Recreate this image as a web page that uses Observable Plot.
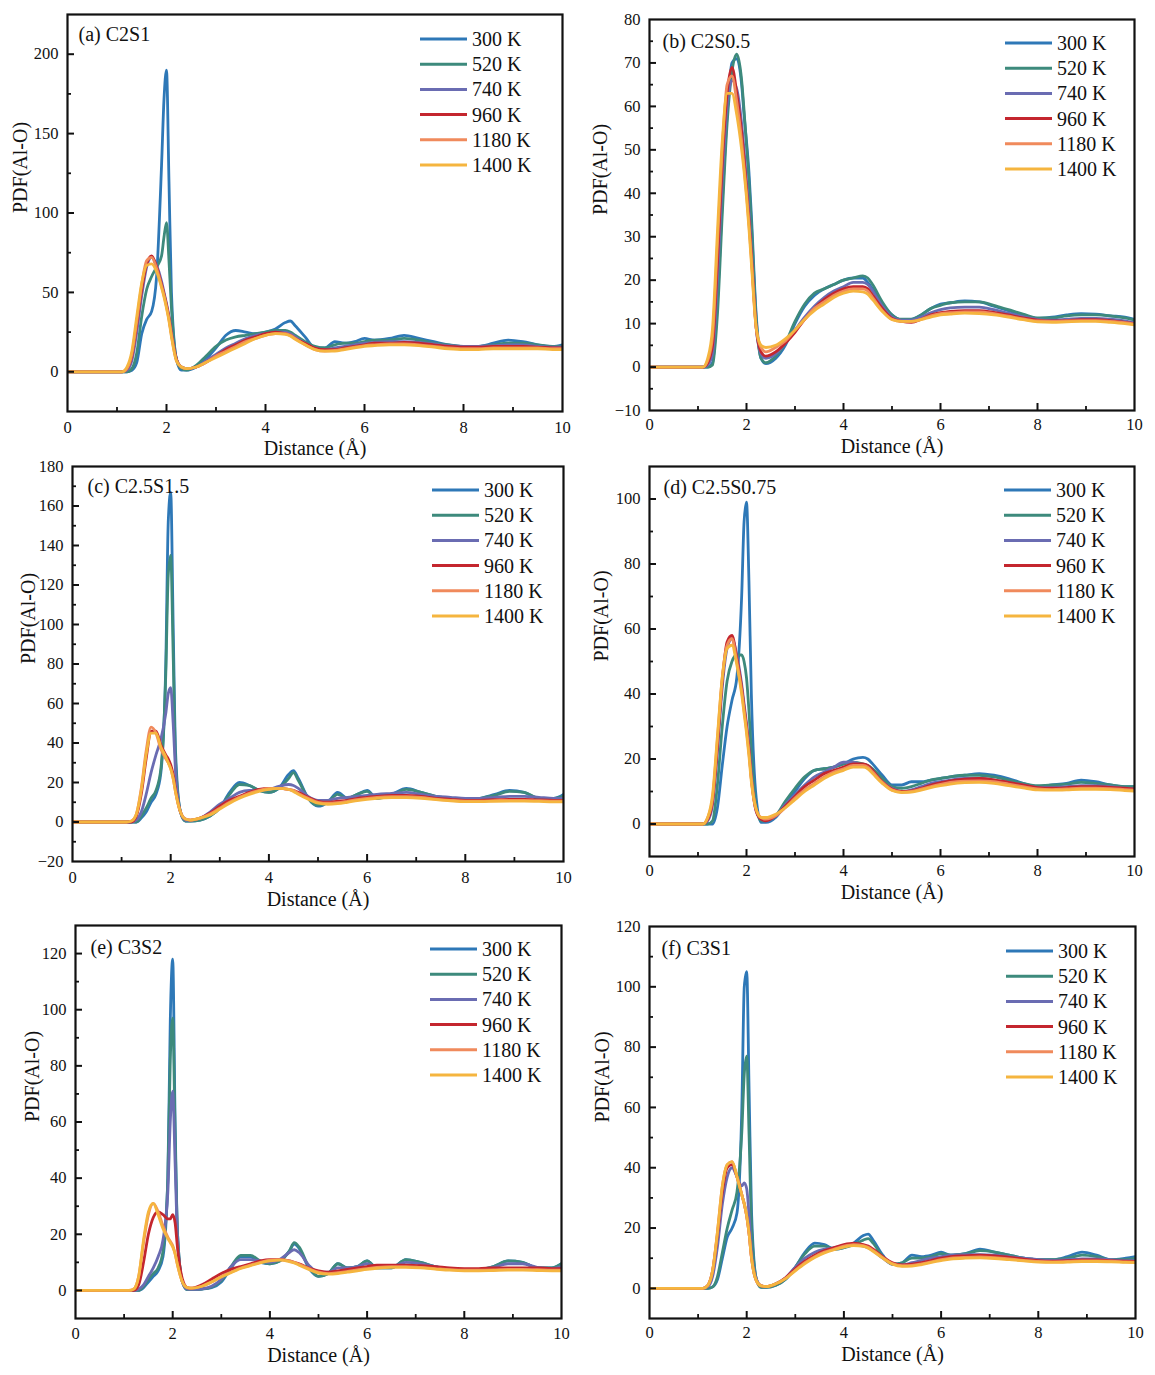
<!DOCTYPE html>
<html><head><meta charset="utf-8">
<script src="https://cdn.jsdelivr.net/npm/d3@7"></script>
<script src="https://cdn.jsdelivr.net/npm/@observablehq/plot@0.6"></script>
<style>
body{margin:0;background:#fff;}
#root{position:relative;width:1155px;height:1375px;overflow:hidden;background:#fff;}
.panel{position:absolute;}
</style></head><body><div id="root"></div>
<script>
// ---------- data ----------
const distance = [0,1.1,1.2,1.3,1.4,1.5,1.6,1.7,1.8,1.9,1.95,2.0,2.05,2.1,2.2,2.3,2.4,2.6,2.8,3.0,3.2,3.4,3.6,3.8,4.0,4.2,4.4,4.5,4.6,4.8,5.0,5.2,5.4,5.6,5.8,6.0,6.2,6.5,6.8,7.1,7.4,7.7,8.0,8.3,8.6,8.9,9.2,9.5,9.8,10];
const temperatures = ["300 K","520 K","740 K","960 K","1180 K","1400 K"];
const xTickLabels = [0,2,4,6,8,10];
const xMinorTicks = [1,3,5,7,9];
const xTitle = "Distance (Å)";
const yTitle = "PDF(Al-O)";

// (a) C2S1
const a300 = [0,0,0,1,6,24,33,38,60,130,172,190,120,50,8,1,1,3,8,15,23,26,25,24,25,27,31,32,29,22,15,15,19,18,19,21,20,21,23,21,19,17,16,16,18,20,19,17,16,17];
const a520 = [0,0,0,2,12,35,52,60,66,73,85,94,70,40,8,2,1,4,10,16,20,22,23,24,25,26,26,25,23,19,16,15,17,18,18,19,20,20,21,20,18,17,16,16,17,18,18,17,16,16];
const a740 = [0,0,1,7,25,48,66,72,67,57,50,43,35,25,8,3,2,3,7,11,15,18,21,23,24,25,25,24,22,18,15,14,15,16,17,18,18.5,19,19,18.5,17.5,16.5,16,16,16.5,17,17,16,15.5,15.5];
const a960 = [0,0,2,10,30,52,68,73,66,55,49,42,34,24,8,3,2,3,6,10,14,17,20,22,24,25,24,23,21,18,15,14,14,15,16,17,18,18,18.5,18,17,16,15.5,15.5,16,16,16,15.5,15,15];
const a1180 = [0,0,2,11,32,55,70,72,65,54,48,41,33,23,7,3,2,3,6,10,13,16,19,21,23,24,24,23,21,17,14,13,13.5,14.5,15.5,16.5,17,17.5,17.5,17,16,15,14.5,14.5,15,15,15,15,14.5,14.5];
const a1400 = [0,0,3,13,35,56,67,68,63,53,47,40,32,22,7,3,2,3,6,9,12,15,18,21,23,24,23.5,22.5,20.5,17,14,13,13,14,15,16,16.5,17,17,16.5,15.5,14.5,14,14,14.5,14.5,14.5,14.5,14,14];

// (b) C2S0.5
const b300 = [0,0,0,1,15,38,58,70,71,65,58,52,45,35,12,2,0.8,2,5,10,14,16.5,18,19,20,20.5,20.5,19.5,18,14.5,12,10.8,11,12,13.5,14.5,14.8,15.2,15,14,13,12,11.2,11.5,12,12.3,12.2,11.8,11.5,11];
const b520 = [0,0,0,0.5,12,35,56,68,72,66,59,51,43,33,11,2,1,2.5,5.5,10.5,14.5,17,18,19,20,20.5,21,20.5,19,15,12,11,11,12,13.5,14.2,14.8,15,15,14.2,13.2,12.2,11.3,11.3,11.8,12,12,11.8,11.3,10.8];
const b740 = [0,0,0.5,3,20,43,60,66,64,56,50,43,36,27,9,3,2,3,5.5,8.5,11.5,14,16,17.5,18.5,19.5,19.5,19,17.5,14,11.5,10.8,10.8,11.5,12.5,13.2,13.6,13.8,13.8,13.2,12.4,11.6,11,10.8,11,11.2,11.2,11,10.6,10.2];
const b960 = [0,0,1,5,24,47,63,69,63,54,48,41,34,26,9,3.5,2.5,3.5,5.5,8,11,13.5,15.5,17,18,18.5,18.5,18,16.5,13.5,11.2,10.5,10.3,11,12,12.5,12.8,13,13,12.6,12,11.3,10.8,10.6,10.7,10.9,10.9,10.7,10.3,10];
const b1180 = [0,0,1.5,7,28,50,65,67,61,52,46,40,33,25,9,4.5,3.5,4.5,6,8.5,11,13.5,15,16.5,17.5,18,18,17.5,16,13,11,10.5,10.5,11,11.8,12.3,12.5,12.7,12.7,12.3,11.7,11.1,10.6,10.5,10.6,10.7,10.7,10.5,10.2,9.9];
const b1400 = [0,0,2,9,31,52,63,63,58,50,45,39,32,24,9,5,4.5,5,6.5,8.5,11,13,14.5,16,17,17.5,17.3,16.8,15.5,12.8,10.9,10.5,10.5,10.9,11.5,12,12.2,12.4,12.3,12,11.5,10.9,10.4,10.3,10.4,10.5,10.5,10.3,10,9.7];

// (c) C2.5S1.5
const c300 = [0,0,0,0,2,5,10,14,25,80,152,167,100,35,5,0.5,0.5,1,3,7,15,20,18.5,16,15,17,24,26,22,12,8,10,15,12,14,16,12,14,17,15,13,12,11,12,14,16,15,12,12,14];
const c520 = [0,0,0,0,3,7,12,16,27,75,125,135,85,30,5,0.5,0.5,1,3,7,14,19,18.5,16,15,17,22,25,21,12,8.5,10,14,12,14,15.5,12,13.5,16.5,15,13,12,11,12,13.5,15.5,15,12,12,13];
const c740 = [0,0,0,1,5,14,25,34,42,55,65,68,50,25,5,1,0.8,2,5,9,12,15,16,16,16.5,18,19,18.5,17,13,11,11,12,12.5,13,13.5,14,14.5,15,14,13,12.5,12,12,12.5,13,13,12.5,12,12];
const c960 = [0,0,0,3,14,32,46,46,39,34,32,29,24,16,5,1.5,1,2,4.5,8,11,13,15,16.5,17,17,16.5,16,15,12.5,10.5,10,10.5,11,12,12.5,13,13.5,13.5,13,12,11.5,11,11,11.3,11.5,11.5,11.2,11,11];
const c1180 = [0,0,0.5,4,17,36,48,45,37,32,30,27,22,15,5,1.5,1,2,4,7,10,12.5,14.5,16,17,17,16.5,16,14.5,12,10,9.5,9.8,10.5,11.3,12,12.5,12.8,12.8,12.4,11.6,11,10.6,10.6,10.8,11,11,10.8,10.5,10.5];
const c1400 = [0,0,0.5,4,16,34,45,45,38,33,30,27,22,15,5,1.5,1,2,3.5,6.5,9.5,12,14,15.5,16.5,17,16.5,15.5,14,11.5,9.5,9,9.3,10,10.8,11.5,12,12.3,12.3,12,11.3,10.7,10.3,10.3,10.5,10.6,10.6,10.4,10.2,10.2];

// (d) C2.5S0.75
const d300 = [0,0,0,0,5,18,30,38,45,70,93,99,75,40,8,0.5,0.5,2,6,10,14,16.5,17,17.5,18.5,20,20.5,20,18.5,15,12,12,13,13,13.5,14,14.5,15,15.5,15,14,12.5,11.5,12,12.5,13.5,13,12,11.5,11.5];
const d520 = [0,0,0,1,12,30,44,50,52,52,50,45,35,22,5,1,1,2.5,7,11,14.5,16.5,17,17.5,18.5,19,18.5,18,17,14,11.5,11,11.5,12.5,13.5,14,14.5,15,15,14.5,13.5,12.5,11.8,12,12.3,12.8,12.5,12,11.5,11.5];
const d740 = [0,0,1,6,22,42,54,57,52,43,37,31,24,15,4,1.5,1,2.5,6,9,12,14.5,16,17.5,19,19,18,17.5,16,13,11,10,10.5,11.5,12.5,13,13.5,14,14,13.5,12.8,12,11.3,11.3,11.5,11.8,11.8,11.5,11,10.8];
const d960 = [0,0,1.5,7,24,44,56,58,51,42,36,30,23,14,4,1.5,1,2.5,5.5,8.5,11.5,13.5,15.5,16.5,17.5,18.5,18.5,18,16.5,13,10.8,10,10.2,11,12,12.7,13.3,13.8,14,13.6,12.8,12,11.2,11,11.2,11.5,11.5,11.3,11,10.8];
const d1180 = [0,0,2,8,26,45,55,57,50,41,35,29,22,14,4.5,2,1.5,2.5,5,8,10.5,12.5,14.5,16,17,18,18,17.5,16,12.8,10.5,9.8,10,10.7,11.5,12.2,12.8,13.2,13.3,13,12.3,11.5,10.8,10.6,10.8,11,11,10.9,10.6,10.4];
const d1400 = [0,0,2,9,27,45,54,55,49,40,34,28,21,13,4.5,2,2,3,5,7.5,10,12,14,15.5,16.5,17.5,17.5,17,15.5,12.5,10.3,9.7,9.8,10.4,11.2,11.8,12.3,12.7,12.8,12.5,11.8,11.1,10.5,10.4,10.5,10.7,10.7,10.6,10.3,10.1];

// (e) C3S2
const e300 = [0,0,0,0,1,3,5,7,12,40,96,118,60,20,3,0.3,0.3,0.5,1,3,8,12,12,10,9.5,10.5,14,16.5,15,8,5,6,9.5,8,8.5,10.5,8,8,11,10,8.5,7.5,7.5,7.5,8.5,10.5,10,8,8,9.5];
const e520 = [0,0,0,0,1.5,4,6,8,14,40,82,97,55,20,3,0.3,0.3,0.5,1.2,3.5,8.5,12.5,12.5,10.5,9.5,10.5,14,17,15.5,8.5,5,6,9.5,8,8.5,10.5,8,8,11,10,8.5,7.5,7.5,7.5,8.5,10.5,10,8,8,9.5];
const e740 = [0,0,0,0.5,2,5,8,12,18,35,60,71,45,18,3,0.5,0.4,0.6,1.5,4,8.5,11,11,10.5,10,11,13.5,14.5,13.5,9,6.5,6.5,8,8,8.5,9.5,8.5,8.5,10,9.5,8.5,7.8,7.5,7.5,8.2,9.5,9.5,8.2,7.8,8.5];
const e960 = [0,0,0,2,10,20,26,28,27,25.5,25.5,27,24,15,4,1,0.8,2,4,6,7.5,8.5,9.5,10.5,11,11,10.5,10,9.5,8,7,6.5,7,7.5,8,8.5,9,9,9,8.8,8.5,8,7.8,7.8,8,8,8,8,7.8,7.8];
const e1180 = [0,0,0.5,5,17,27,31,28,23,19,17.5,16,13,9,3,1,0.8,1.5,3,5,6.5,8,9,10,10.8,11,10.5,10,9.3,7.8,6.5,6,6.3,6.8,7.3,7.8,8.2,8.5,8.5,8.2,7.8,7.4,7.2,7.2,7.3,7.5,7.5,7.4,7.2,7.2];
const e1400 = [0,0,0.5,5,18,28,31,27,22,18.5,17,15.5,13,9,3,1,0.8,1.5,3,4.8,6.3,7.8,8.8,9.8,10.5,10.8,10.3,9.8,9,7.5,6.2,5.8,6,6.5,7,7.5,7.9,8.2,8.2,8,7.6,7.2,7,7,7.1,7.2,7.2,7.1,7,7];

// (f) C3S1
const f300 = [0,0,0,0.5,3,10,17,20,25,60,100,105,65,25,3,0.3,0.3,1,3,7,12,15,14.5,13,13.5,15,17.5,18,16,11,8,8.5,11,10.5,11,12,11,11.5,13,12,11,10,9.5,9.5,10.5,12,11,9.5,10,10.5];
const f520 = [0,0,0,0.5,4,12,20,26,32,52,71,77,50,20,3,0.3,0.3,1,3,7,11.5,14,14,13,13.5,14.5,16,16.5,15,10.5,8,8.5,10,10,10.5,11.5,11,11.5,12.5,12,11,10,9.5,9.5,10,11,10.5,9.5,9.5,10];
const f740 = [0,0,0.5,4,14,28,37,40,37,34,35,33,24,12,3,0.8,0.5,1.5,3.5,7,10,12,13,13.5,14,14.5,14,13.5,12.5,10,8,7.8,8.5,9.3,10,10.5,11,11.2,11.2,11,10.5,10,9.5,9.3,9.5,9.8,9.8,9.5,9.2,9.2];
const f960 = [0,0,1,6,18,32,40,41,37,31,28,24,18,10,2.5,0.8,0.6,1.5,3.5,6.5,9,11,12.5,13.5,14.5,15,14.5,14,13,10.5,8.5,7.8,8,8.5,9.3,10,10.5,10.8,11,10.8,10.3,9.7,9.2,9,9.2,9.4,9.4,9.2,9,8.9];
const f1180 = [0,0,1,6,19,34,41,42,37,31,28,24,18,10,2.5,0.8,0.6,1.5,3.3,6,8.5,10.5,12,13,14,14.5,14.2,13.6,12.6,10.2,8.2,7.5,7.6,8.1,8.8,9.5,10,10.3,10.4,10.2,9.8,9.3,8.9,8.8,8.9,9.1,9.1,9,8.8,8.7];
const f1400 = [0,0,1,6,19,34,41,42,37,31,28,24,18,10,2.5,0.8,0.6,1.5,3.2,5.8,8.2,10.2,11.7,12.8,13.7,14.2,13.9,13.3,12.3,10,8,7.3,7.4,7.9,8.6,9.2,9.7,10,10.1,9.9,9.5,9.1,8.7,8.6,8.7,8.9,8.9,8.8,8.6,8.5];

const panelLabels = ["(a) C2S1","(b) C2S0.5","(c) C2.5S1.5","(d) C2.5S0.75","(e) C3S2","(f) C3S1"];
const panelSeries = [
  [a300,a520,a740,a960,a1180,a1400],
  [b300,b520,b740,b960,b1180,b1400],
  [c300,c520,c740,c960,c1180,c1400],
  [d300,d520,d740,d960,d1180,d1400],
  [e300,e520,e740,e960,e1180,e1400],
  [f300,f520,f740,f960,f1180,f1400]
];
const yDomains = [[-25,225],[-10,80],[-20,180],[-10,110],[-10,130],[-10,120]];
const yTickLabels = [
  [0,50,100,150,200],
  [-10,0,10,20,30,40,50,60,70,80],
  [-20,0,20,40,60,80,100,120,140,160,180],
  [0,20,40,60,80,100],
  [0,20,40,60,80,100,120],
  [0,20,40,60,80,100,120]
];
const yMinorTicks = [
  [25,75,125,175],
  [-5,5,15,25,35,45,55,65,75],
  [-10,10,30,50,70,90,110,130,150,170],
  [10,30,50,70,90],
  [10,30,50,70,90,110],
  [10,30,50,70,90,110]
];

// ---------- styles / layout ----------
const colors = ["#2e78b7","#3d8a7c","#6a6cb2","#c4262e","#f08a5c","#f5b53f"];
const frames = [
  {l:67, r:562, t:14, b:411, xLab:37, tickPad:10, yLab:47, tagDx:11, tagDy:20, legX:420, legY:39},
  {l:649,r:1134,t:19, b:410, xLab:36, tickPad:8,  yLab:49, tagDx:13, tagDy:22, legX:1005,legY:43},
  {l:72, r:563, t:466,b:861, xLab:38, tickPad:10, yLab:44, tagDx:15, tagDy:20, legX:432, legY:490},
  {l:649,r:1134,t:466,b:856, xLab:36, tickPad:8,  yLab:48, tagDx:14, tagDy:21, legX:1004,legY:490},
  {l:75, r:561, t:925,b:1318,xLab:37, tickPad:9,  yLab:43, tagDx:15, tagDy:22, legX:430, legY:949},
  {l:649,r:1135,t:926,b:1318,xLab:36, tickPad:8,  yLab:47, tagDx:12, tagDy:22, legX:1006,legY:951}
];
const mL = 70, mR = 12, mT = 12, mB = 52;
const font = "'Liberation Serif','Times New Roman',serif";
const fmt = d => d < 0 ? "\u2212" + (-d) : String(d);

const root = document.getElementById("root");
frames.forEach((L, p) => {
  const fw = L.r - L.l, fh = L.b - L.t;
  const rows = [];
  panelSeries[p].forEach((ys, s) => ys.forEach((y, i) => rows.push({x: distance[i], y, t: temperatures[s]})));
  const legend = () => {
    const g = d3.create("svg:g").attr("text-anchor", "start");
    const x0 = L.legX - L.l + mL;
    temperatures.forEach((t, i) => {
      const y = L.legY - L.t + mT + i * 25.2;
      g.append("line").attr("x1", x0).attr("x2", x0 + 47).attr("y1", y).attr("y2", y)
        .attr("stroke", colors[i]).attr("stroke-width", 3);
      g.append("text").attr("x", x0 + 52).attr("y", y).attr("dy", "0.35em")
        .attr("text-anchor", "start").attr("font-size", 20).attr("fill", "#111").text(t);
    });
    return g.node();
  };
  const chart = Plot.plot({
    width: fw + mL + mR, height: fh + mT + mB,
    marginLeft: mL, marginRight: mR, marginTop: mT, marginBottom: mB,
    style: {fontFamily: font, background: "transparent", overflow: "visible", color: "#111"},
    x: {domain: [0, 10]},
    y: {domain: yDomains[p]},
    color: {domain: temperatures, range: colors},
    marks: [
      Plot.line(rows, {x: "x", y: "y", z: "t", stroke: "t", strokeWidth: 2.8, curve: "monotone-x", clip: true}),
      Plot.tickX(xTickLabels.slice(1, -1), {x: d => d, insetTop: fh - 7, stroke: "#111", strokeWidth: 2}),
      Plot.tickX(xMinorTicks, {x: d => d, insetTop: fh - 4, stroke: "#111", strokeWidth: 1.8}),
      Plot.tickY(yTickLabels[p].filter(v => v > yDomains[p][0] && v < yDomains[p][1]), {y: d => d, insetRight: fw - 7, stroke: "#111", strokeWidth: 2}),
      Plot.tickY(yMinorTicks[p], {y: d => d, insetRight: fw - 4, stroke: "#111", strokeWidth: 1.8}),
      Plot.axisX({ticks: xTickLabels, tickSize: 0, tickPadding: L.tickPad, fontSize: 16.5, label: null, tickFormat: fmt}),
      Plot.axisY({ticks: yTickLabels[p], tickSize: 0, tickPadding: 9, fontSize: 16.5, label: null, tickFormat: fmt}),
      Plot.frame({stroke: "#111", strokeWidth: 2.2}),
      Plot.text([xTitle], {frameAnchor: "bottom", dy: L.xLab, lineAnchor: "middle", fontSize: 20, text: d => d}),
      Plot.text([yTitle], {frameAnchor: "left", dx: -L.yLab, rotate: -90, lineAnchor: "middle", fontSize: 20, text: d => d}),
      Plot.text([panelLabels[p]], {frameAnchor: "top-left", dx: L.tagDx, dy: L.tagDy, textAnchor: "start", lineAnchor: "middle", fontSize: 20, text: d => d}),
      legend
    ]
  });
  const wrap = document.createElement("div");
  wrap.className = "panel";
  wrap.style.left = (L.l - mL) + "px";
  wrap.style.top = (L.t - mT) + "px";
  wrap.appendChild(chart);
  root.appendChild(wrap);
});
</script></body></html>
